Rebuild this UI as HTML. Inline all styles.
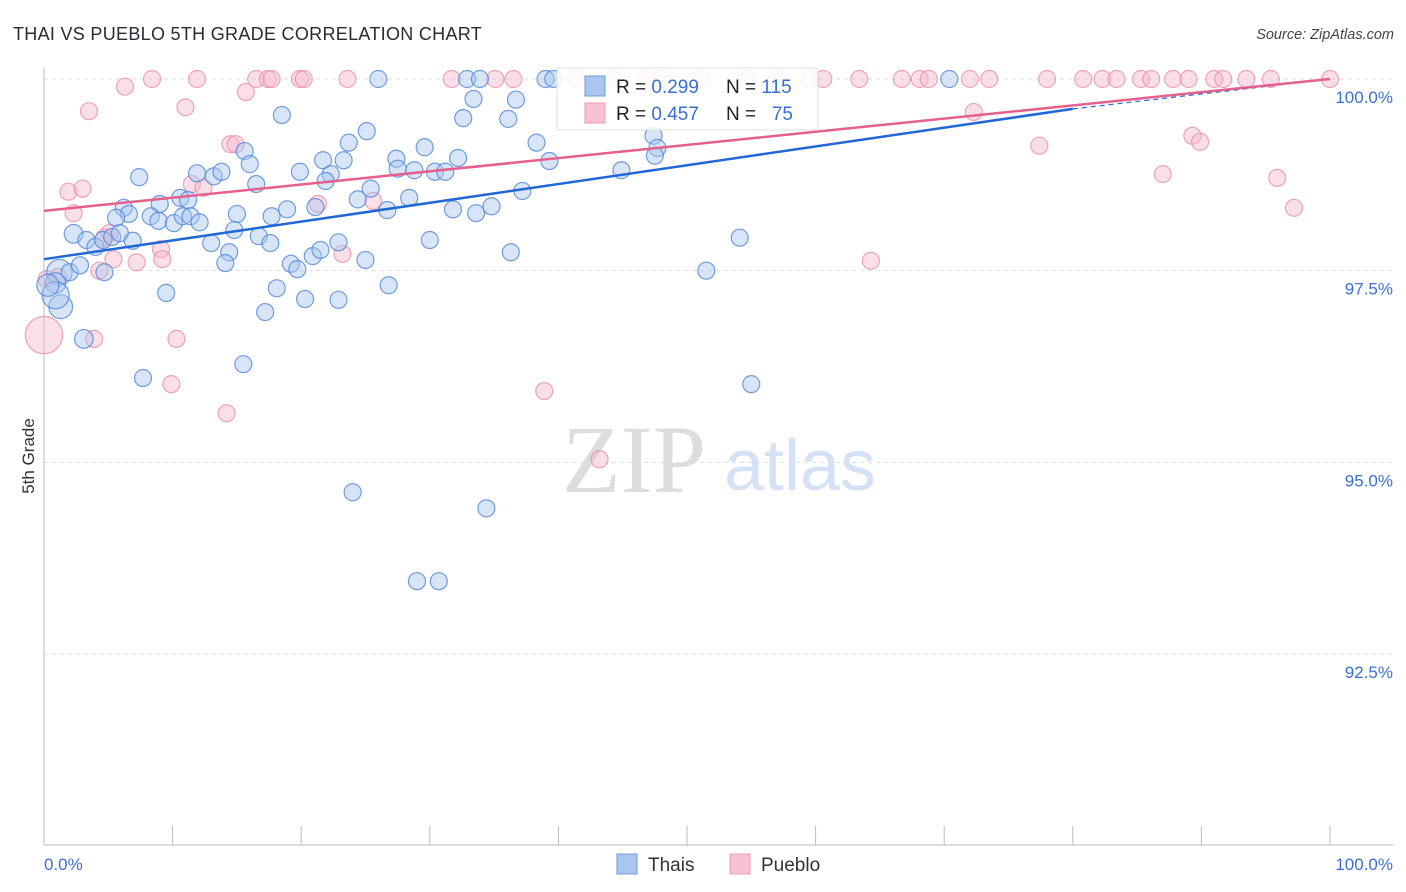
<!DOCTYPE html>
<html><head><meta charset="utf-8"><style>
body{margin:0;background:#fff;font-family:"Liberation Sans",sans-serif}
#wrap{position:relative;width:1406px;height:892px;overflow:hidden}
</style></head><body>
<div id="wrap">
<svg id="chart" width="1406" height="892">
<text x="13" y="40" font-size="18" fill="#2a2a35" letter-spacing="0.3">THAI VS PUEBLO 5TH GRADE CORRELATION CHART</text>
<text x="1394" y="39" font-size="14.5" fill="#444" text-anchor="end" font-style="italic">Source: ZipAtlas.com</text>
<text x="34" y="456" font-size="17" fill="#333" transform="rotate(-90 34 456)" text-anchor="middle">5th Grade</text>
<g><text x="634" y="492" font-size="96" fill="#ddd" text-anchor="middle" font-family="Liberation Serif,serif">ZIP</text><text x="800" y="490" font-size="72" fill="#d5e2f5" text-anchor="middle">atlas</text></g>
<g id="grid"></g><g id="axes"></g><g id="pts"></g><g id="trend"></g>
<g>
<rect x="557" y="68" width="261" height="62" fill="#fff" fill-opacity="0.85" stroke="#ddd"/>
<rect x="585" y="76" width="20" height="20" fill="#a9c6f0" stroke="#6d9be0"/>
<text x="616" y="93" font-size="19" fill="#222">R = <tspan fill="#3a6fd8">0.299</tspan></text>
<text x="726" y="93" font-size="19" fill="#222">N = <tspan fill="#3a6fd8">115</tspan></text>
<rect x="585" y="103" width="20" height="20" fill="#f9c2d2" stroke="#ef9ab3"/>
<text x="616" y="120" font-size="19" fill="#222">R = <tspan fill="#3a6fd8">0.457</tspan></text>
<text x="726" y="120" font-size="19" fill="#222">N = </text>
<text x="793" y="120" font-size="19" fill="#3a6fd8" text-anchor="end">75</text>
</g>
<g>
<rect x="617" y="854" width="20" height="20" fill="#a9c6f0" stroke="#6d9be0"/>
<text x="648" y="871" font-size="19" fill="#333">Thais</text>
<rect x="730" y="854" width="20" height="20" fill="#f9c2d2" stroke="#ef9ab3"/>
<text x="761" y="871" font-size="19" fill="#333">Pueblo</text>
</g>
</svg></div>
<script>
const yTicks=[100,97.5,95,92.5];
const yTickLabels=["100.0%","97.5%","95.0%","92.5%"];
const xTickLabels=["0.0%","100.0%"];
const thaiX=[26.0,32.9,33.9,39.0,39.6,70.4,33.4,36.7,18.5,32.6,36.1,25.1,38.3,23.7,29.6,47.4,47.7,47.5,15.6,16.0,21.7,23.3,27.4,32.2,39.3,7.4,11.9,13.2,13.8,19.9,22.3,21.9,27.5,28.8,30.4,31.2,44.9,16.5,25.4,10.6,11.2,9.0,6.2,6.6,5.6,8.3,8.9,10.1,10.8,11.4,12.1,15.0,17.7,18.9,21.1,24.4,26.7,28.4,31.8,33.6,34.8,37.2,2.3,3.3,4.0,4.6,5.3,5.9,6.9,13.0,14.8,16.7,17.6,14.4,14.1,19.2,19.7,20.9,21.5,22.9,25.0,30.0,36.3,54.1,51.5,1.2,2.0,0.9,1.3,4.7,2.8,18.1,20.3,22.9,26.8,17.2,9.5,3.1,7.7,15.5,55.0,24.0,34.4,29.0,30.7,0.9,0.3];
const thaiY=[100,100,100,100,100,100,99.74,99.73,99.53,99.49,99.48,99.32,99.17,99.17,99.11,99.26,99.10,99.00,99.06,98.89,98.94,98.94,98.96,98.97,98.93,98.72,98.77,98.73,98.79,98.79,98.76,98.67,98.83,98.81,98.79,98.79,98.81,98.63,98.57,98.45,98.42,98.37,98.32,98.24,98.19,98.21,98.15,98.12,98.21,98.21,98.13,98.24,98.21,98.30,98.33,98.43,98.29,98.45,98.30,98.25,98.34,98.54,97.98,97.90,97.81,97.90,97.94,97.99,97.89,97.86,98.03,97.95,97.86,97.74,97.60,97.59,97.52,97.69,97.77,97.87,97.64,97.90,97.74,97.93,97.50,97.48,97.48,97.34,97.03,97.48,97.57,97.27,97.13,97.12,97.31,96.96,97.21,96.61,96.10,96.28,96.02,94.61,94.40,93.45,93.45,97.18,97.31];
const thaiSize=[1,1,1,1,1,1,1,1,1,1,1,1,1,1,1,1,1,1,1,1,1,1,1,1,1,1,1,1,1,1,1,1,1,1,1,1,1,1,1,1,1,1,1,1,1,1,1,1,1,1,1,1,1,1,1,1,1,1,1,1,1,1,1.1,1,1,1,1,1,1,1,1,1,1,1,1,1,1,1,1,1,1,1,1,1,1,1.5,1,1.2,1.4,1,1,1,1,1,1,1,1,1.1,1,1,1,1,1,1,1,1.6,1.3];
const puebloX=[8.4,11.9,16.5,17.4,17.7,19.9,20.2,23.6,31.7,35.1,36.5,41.4,44.3,46.9,48.0,51.1,54.6,57.0,59.6,60.6,63.4,66.7,68.1,68.8,72.0,73.5,78.0,80.8,82.3,83.4,85.3,86.1,87.8,89.0,91.0,91.7,93.5,95.4,100,6.3,15.7,3.5,11.0,14.5,14.9,72.3,89.3,89.9,77.4,87.0,95.9,97.2,1.9,3.0,2.3,11.5,12.4,21.3,25.6,5.1,4.7,9.1,23.2,64.3,5.4,7.2,9.2,4.3,0.2,1.1,3.9,10.3,0,9.9,14.2,38.9,43.2];
const puebloY=[100,100,100,100,100,100,100,100,100,100,100,100,100,100,100,100,100,100,100,100,100,100,100,100,100,100,100,100,100,100,100,100,100,100,100,100,100,100,100,99.90,99.83,99.58,99.63,99.15,99.15,99.57,99.26,99.18,99.13,98.76,98.71,98.32,98.53,98.57,98.25,98.63,98.58,98.37,98.41,97.99,97.93,97.78,97.72,97.63,97.65,97.61,97.65,97.50,97.39,97.42,96.61,96.61,96.66,96.02,95.64,95.93,95.04];
const puebloSize=puebloX.map((v,i)=>i===72?2.2:1);
const thaiTrend=[97.65,99.61,100]; const thaiTrendX=[0,80,100];
const puebloTrend=[98.28,100]; const puebloTrendX=[0,100];

const X0=44,X1=1330,YT=79,PX=76.67;
const sx=v=>X0+(X1-X0)*v/100;
const sy=v=>YT+(100-v)*PX;
const NS="http://www.w3.org/2000/svg";
function mk(t,a,p){const e=document.createElementNS(NS,t);for(const k in a)e.setAttribute(k,a[k]);p.appendChild(e);return e;}
const grid=document.getElementById('grid'),axes=document.getElementById('axes'),pts=document.getElementById('pts'),trend=document.getElementById('trend');
yTicks.forEach((t,i)=>{
 const l=mk('line',{x1:44,x2:1393,y1:sy(t),y2:sy(t),stroke:'#ddd','stroke-dasharray':'4,4'},grid);
 
 
 const tx=mk('text',{x:1393,y:sy(t)+24,'font-size':17,fill:'#3a6fd8','text-anchor':'end'},axes);
 tx.textContent=yTickLabels[i];
 
 
});
let a=mk('line',{x1:44,x2:44,y1:68,y2:845,stroke:'#bbb'},axes);


a=mk('line',{x1:44,x2:1393,y1:845,y2:845,stroke:'#bbb'},axes);


for(let i=1;i<=10;i++){const t=mk('line',{x1:sx(i*10),x2:sx(i*10),y1:826,y2:845,stroke:'#bbb'},axes);
 
 }
let xl=mk('text',{x:44,y:870,'font-size':17,fill:'#3a6fd8'},axes);xl.textContent=xTickLabels[0];


xl=mk('text',{x:1393,y:870,'font-size':17,fill:'#3a6fd8','text-anchor':'end'},axes);xl.textContent=xTickLabels[1];


function dots(xs,ys,ss,fill,stroke,name){xs.forEach((v,i)=>{
 const c=mk('circle',{cx:sx(v),cy:sy(ys[i]),r:8.5*ss[i],fill:fill,'fill-opacity':0.45,stroke:stroke,'stroke-width':1.2,'stroke-opacity':0.8},pts);
 
 });}
dots(puebloX,puebloY,puebloSize,'#f7b8cb','#ea8eab','pueblo-point');
dots(thaiX,thaiY,thaiSize,'#a9c6f0','#4f86dc','thai-point');
let tl=mk('line',{x1:sx(thaiTrendX[0]),y1:sy(thaiTrend[0]),x2:sx(thaiTrendX[1]),y2:sy(thaiTrend[1]),stroke:'#2167d6','stroke-width':2.5},trend);


tl=mk('line',{x1:sx(thaiTrendX[1]),y1:sy(thaiTrend[1]),x2:sx(thaiTrendX[2]),y2:sy(thaiTrend[2]),stroke:'#2167d6','stroke-width':1.2,'stroke-dasharray':'5,4'},trend);


tl=mk('line',{x1:sx(puebloTrendX[0]),y1:sy(puebloTrend[0]),x2:sx(puebloTrendX[1]),y2:sy(puebloTrend[1]),stroke:'#e5608c','stroke-width':2.5},trend);


</script>
</body></html>
